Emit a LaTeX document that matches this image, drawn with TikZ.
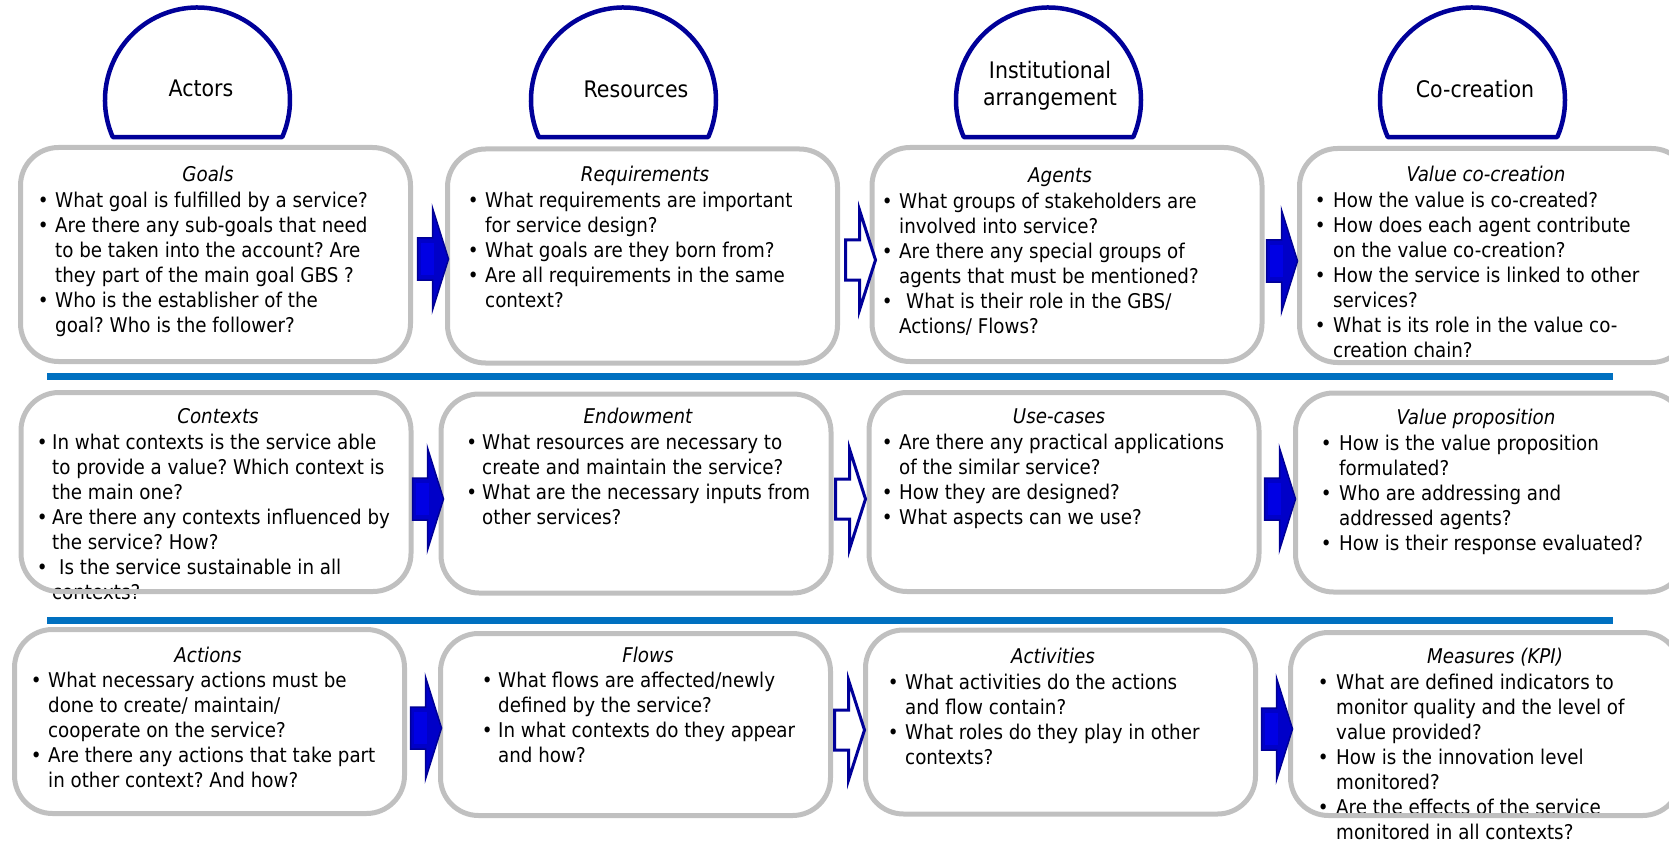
\documentclass[tikz,border=0pt]{standalone}
\usepackage{fontspec}
\setmainfont{DejaVu Sans Condensed}
\usetikzlibrary{calc}
\definecolor{navy}{RGB}{0,0,153}
\definecolor{boxgray}{RGB}{192,192,192}
\definecolor{sepblue}{RGB}{0,112,192}
\definecolor{arrfill}{RGB}{0,0,200}
\definecolor{arrlight}{RGB}{0,0,228}
\definecolor{arrdark}{RGB}{0,0,150}
\newcommand{\bodyfont}{\frenchspacing\fontsize{20.3pt}{25pt}\selectfont}
\newcommand{\headfont}{\fontsize{22.8pt}{27pt}\selectfont}
\newcommand{\bl}[1]{\llap{\makebox[0pt][c]{•}\hspace{#1}}}
\newcommand{\fl}{\rule{0pt}{18pt}}
\begin{document}
\begin{tikzpicture}[x=1pt,y=-1pt,
  box/.style={draw=boxgray,line width=5pt,rounded corners=38pt,inner sep=0pt,minimum width=390pt},
  rowA/.style={box,minimum height=214pt},
  rowB/.style={box,minimum height=199pt},
  rowC/.style={box,minimum height=184pt},
  txt/.style={anchor=north west,inner sep=0pt,font=\bodyfont,align=left},
  ttl/.style={anchor=base,inner sep=0pt,font=\bodyfont\itshape},
  hdr/.style={anchor=base,inner sep=0pt,font=\headfont,align=center},
  sep/.style={draw=sepblue,line width=7pt},
  pics/dome/.style={code={
    \draw[navy,line width=4.5pt,fill=white,line join=round]
      (156.4:92.5) arc[start angle=156.4,end angle=383.6,radius=92.5] -- cycle;}},
  pics/fullarr/.style={code={
    \fill[arrfill,draw=arrdark,line width=1.5pt]
      (0,-21)--(15,-21)--(15,-51)--(31,0)--(15,51)--(15,21)--(0,21)--cycle;
    \fill[arrlight] (3,-16) rectangle (16,16);}},
  pics/openarr/.style={code={
    \draw[navy,line width=3pt,fill=white]
      (0,-20)--(14,-20)--(14,-50)--(30,0)--(14,50)--(14,20)--(0,20)--cycle;}}
]
\useasboundingbox (0,0) rectangle (1669,842);
\clip (0,0) rectangle (1669,842);

% ---------- header domes ----------
\coordinate (dA) at (197.5,100);
\coordinate (dB) at (623.5,100);
\coordinate (dC) at (1048.5,100);
\coordinate (dD) at (1472.5,100);
\pic at (dA) {dome};
\pic at (dB) {dome};
\pic at (dC) {dome};
\pic at (dD) {dome};
\node[hdr] (hA) at (201,97) {Actors};
\node[hdr] (hB) at (636,98) {Resources};
\node[hdr,anchor=north] (hC) at (1050,58) {\rule{0pt}{20pt}Institutional\\arrangement};
\node[hdr] (hD) at (1475,98) {Co-creation};

% ---------- row 1 texts ----------
\node[ttl] (t11) at (208,182) {Goals};
\node[txt] (x11) at (55,189) {\fl\bl{12pt}What goal is fulfilled by a service?\\
\bl{12pt}Are there any sub-goals that need\\
to be taken into the account? Are\\
they part of the main goal GBS ?\\
\bl{12pt}Who is the establisher of the\\
goal? Who is the follower?};

\node[ttl] (t12) at (645,182) {Requirements};
\node[txt] (x12) at (485,189) {\fl\bl{12pt}What requirements are important\\
for service design?\\
\bl{12pt}What goals are they born from?\\
\bl{12pt}Are all requirements in the same\\
context?};

\node[ttl] (t13) at (1060,183) {Agents};
\node[txt] (x13) at (899,190) {\fl\bl{12pt}What groups of stakeholders are\\
involved into service?\\
\bl{12pt}Are there any special groups of\\
agents that must be mentioned?\\
\bl{12pt}\hspace*{7pt}What is their role in the GBS/\\
Actions/ Flows?};

\node[ttl] (t14) at (1486,182) {Value co-creation};
\node[txt] (x14) at (1333,189) {\fl\bl{13pt}How the value is co-created?\\
\bl{13pt}How does each agent contribute\\
on the value co-creation?\\
\bl{13pt}How the service is linked to other\\
services?\\
\bl{13pt}What is its role in the value co-\\
creation chain?};

% ---------- row 2 texts ----------
\node[ttl] (t21) at (218,423) {Contexts};
\node[txt] (x21) at (52,431) {\fl\bl{10pt}In what contexts is the service able\\
to provide a value? Which context is\\
the main one?\\
\bl{10pt}Are there any contexts influenced by\\
the service? How?\\
\bl{10pt}\hspace*{7pt}Is the service sustainable in all\\
contexts?};

\node[ttl] (t22) at (638,423) {Endowment};
\node[txt] (x22) at (482,431) {\fl\bl{10.5pt}What resources are necessary to\\
create and maintain the service?\\
\bl{10.5pt}What are the necessary inputs from\\
other services?};

\node[ttl] (t23) at (1059,423) {Use-cases};
\node[txt] (x23) at (899,431) {\fl\bl{12pt}Are there any practical applications\\
of the similar service?\\
\bl{12pt}How they are designed?\\
\bl{12pt}What aspects can we use?};

\node[ttl] (t24) at (1476,424) {Value proposition};
\node[txt] (x24) at (1339,432) {\fl\bl{13pt}How is the value proposition\\
formulated?\\
\bl{13pt}Who are addressing and\\
addressed agents?\\
\bl{13pt}How is their response evaluated?};

% ---------- row 3 texts ----------
\node[ttl] (t31) at (208,662) {Actions};
\node[txt] (x31) at (48,669) {\fl\bl{12pt}What necessary actions must be\\
done to create/ maintain/\\
cooperate on the service?\\
\bl{12pt}Are there any actions that take part\\
in other context? And how?};

\node[ttl] (t32) at (648,662) {Flows};
\node[txt] (x32) at (498,669) {\fl\bl{11pt}What flows are affected/newly\\
defined by the service?\\
\bl{11pt}In what contexts do they appear\\
and how?};

\node[ttl] (t33) at (1053,663) {Activities};
\node[txt] (x33) at (905,671) {\fl\bl{12pt}What activities do the actions\\
and flow contain?\\
\bl{12pt}What roles do they play in other\\
contexts?};

\node[ttl] (t34) at (1495,663) {Measures (KPI)};
\node[txt] (x34) at (1336,671) {\fl\bl{13pt}What are defined indicators to\\
monitor quality and the level of\\
value provided?\\
\bl{13pt}How is the innovation level\\
monitored?\\
\bl{13pt}Are the effects of the service\\
monitored in all contexts?};

% ---------- boxes (border over text) ----------
\node[rowA] (b11) at (215.5,254.5) {};
\node[rowA] (b12) at (642.5,256) {};
\node[rowA] (b13) at (1067,254.5) {};
\node[rowA] (b14) at (1494.5,255.5) {};
\node[rowB] (b21) at (216,492) {};
\node[rowB] (b22) at (636,493.5) {};
\node[rowB] (b23) at (1064,492) {};
\node[rowB] (b24) at (1490.5,492.5) {};
\node[rowC] (b31) at (209.5,721.5) {};
\node[rowC,minimum height=182pt] (b32) at (635.5,724.5) {};
\node[rowC] (b33) at (1060.5,722) {};
\node[rowC,minimum height=183pt] (b34) at (1485.5,724) {};

% ---------- arrows ----------
\pic at ($(b11.east)+(4.5,4.5)$) {fullarr};
\pic at ($(b12.east)+(5.5,4)$) {openarr};
\pic at ($(b13.east)+(2,6.5)$) {fullarr};
\pic at ($(b21.east)+(-1,7)$) {fullarr};
\pic at ($(b22.east)+(2,5.5)$) {openarr};
\pic at ($(b23.east)+(3,7)$) {fullarr};
\pic at ($(b31.east)+(3.5,6.5)$) {fullarr};
\pic at ($(b32.east)+(1.5,5.5)$) {openarr};
\pic at ($(b33.east)+(3.5,7)$) {fullarr};

% ---------- separators ----------
\coordinate (s1a) at (47,376.5);
\coordinate (s1b) at (1613,376.5);
\coordinate (s2a) at (47,620.5);
\coordinate (s2b) at (1613,620.5);
\draw[sep] (s1a) -- (s1b);
\draw[sep] (s2a) -- (s2b);
\end{tikzpicture}
\end{document}
